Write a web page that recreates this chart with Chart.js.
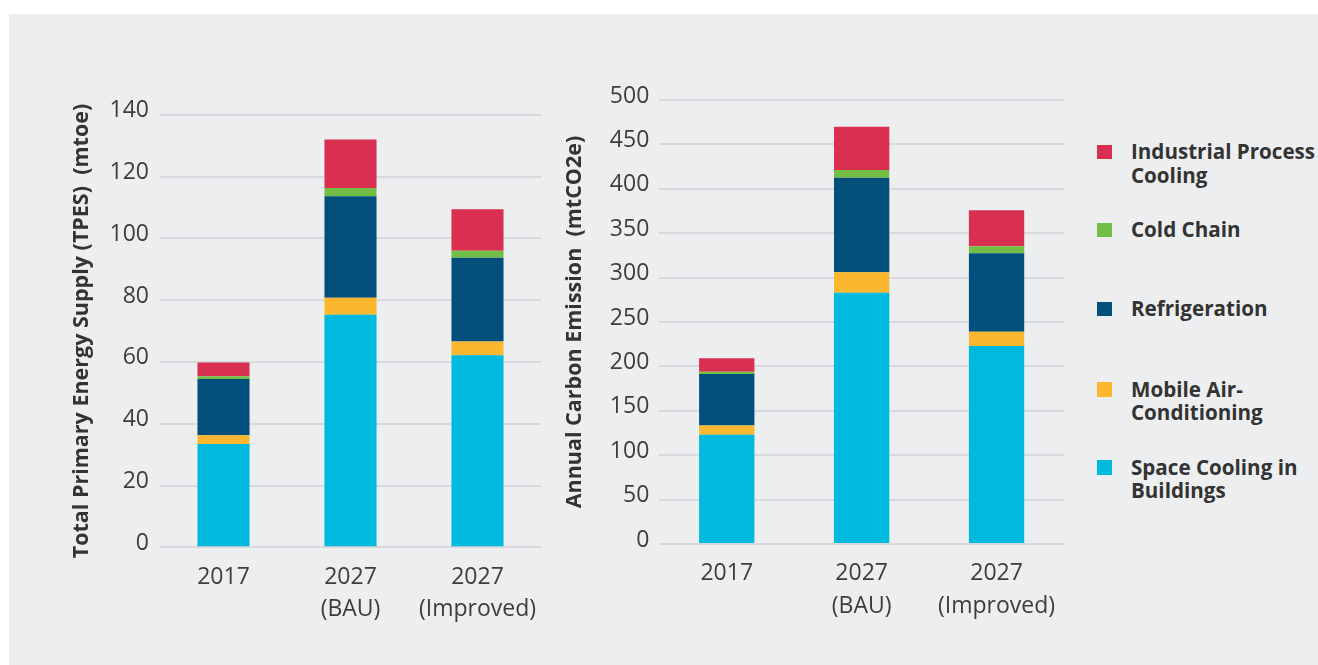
<!DOCTYPE html>
<html>
<head>
<meta charset="utf-8">
<title>Cooling demand - TPES and emissions</title>
<script src="https://cdn.jsdelivr.net/npm/chart.js@4.4.1/dist/chart.umd.min.js"></script>
<style>
    body { margin: 0; width: 1318px; height: 665px; overflow: hidden; background: #fff; font-family: 'Open Sans', sans-serif; }
    #panel { position: absolute; left: 9px; top: 14px; width: 1309px; height: 651px; background: #edeef0; }
    .box { position: absolute; }
    #tpes_box { left: 60px; top: 90px; width: 500px; height: 550px; }
    #co2_box { left: 560px; top: 76px; width: 520px; height: 564px; }
    .legend-item { position: absolute; left: 1097px; width: 221px; }
    .legend-item .sw { position: absolute; left: 0; width: 14.5px; height: 14.5px; }
    .legend-item .txt { position: absolute; left: 34px; font-size: 20.6px; font-weight: 700; line-height: 23.5px; color: #333; white-space: nowrap; }
</style>
</head>
<body>
<div id="panel"></div>
<div class="box" id="tpes_box"><canvas id="tpes_chart"></canvas></div>
<div class="box" id="co2_box"><canvas id="co2_chart"></canvas></div>
<div id="legend"></div>

<script>
// categories (x axis), two lines each
var categories = [["2017"], ["2027", "(BAU)"], ["2027", "(Improved)"]];

// series, bottom of the stack first
var seriesNames = ["Space Cooling in Buildings", "Mobile Air-Conditioning", "Refrigeration", "Cold Chain", "Industrial Process Cooling"];
var seriesColors = ["#00b9df", "#fbb72f", "#034f7b", "#73bf45", "#d92f50"];

// Total Primary Energy Supply (mtoe)
var tpesSpaceCooling = [33.4, 75.3, 62.2];
var tpesMobileAC     = [2.9, 5.5, 4.4];
var tpesRefrigeration = [18.2, 32.8, 27.1];
var tpesColdChain    = [0.9, 2.7, 2.3];
var tpesIndustrial   = [4.4, 15.7, 13.4];

// Annual carbon emission (mtCO2e)
var co2SpaceCooling  = [123, 283, 223];
var co2MobileAC      = [10.5, 23, 16];
var co2Refrigeration = [58, 106.5, 88.5];
var co2ColdChain     = [2.6, 8.7, 7.9];
var co2Industrial    = [15, 48.7, 40.5];

// y axis ticks
var tpesMax = 140, tpesStep = 20;
var co2Max = 500, co2Step = 50;

// legend order as printed (top first)
var legendOrder = [4, 3, 2, 1, 0];
var legendLabels = [["Space Cooling in", "Buildings"], ["Mobile Air-", "Conditioning"], ["Refrigeration"], ["Cold Chain"], ["Industrial Process", "Cooling"]];
var legendTops = [467.5, 389.7, 309.2, 230, 152];

Chart.defaults.font.family = "'Open Sans', sans-serif";

function getChartJs(seriesData, yMax, yStep, yTitle, lay) {
    var datasets = [];
    for (var i = 0; i < seriesNames.length; i++) {
        datasets.push({
            label: seriesNames[i],
            data: seriesData[i],
            backgroundColor: seriesColors[i],
            borderWidth: 0,
            barPercentage: 0.41,
            categoryPercentage: 1
        });
    }
    return {
        type: 'bar',
        data: {
            labels: categories,
            datasets: datasets
        },
        options: {
            responsive: true,
            maintainAspectRatio: false,
            animation: false,
            layout: { padding: { top: lay.top, right: lay.right, bottom: 0, left: 0 } },
            plugins: {
                legend: { display: false },
                tooltip: { enabled: false }
            },
            scales: {
                x: {
                    stacked: true,
                    grid: { display: false, drawTicks: false },
                    border: { display: false },
                    ticks: {
                        color: '#3d3d3d',
                        font: { size: 23, lineHeight: 1.41 },
                        padding: 13.5,
                        maxRotation: 0,
                        autoSkip: false
                    },
                    afterFit: function (scale) { scale.height = lay.xHeight; }
                },
                y: {
                    stacked: true,
                    min: 0,
                    max: yMax,
                    grid: { color: '#d8d9dc', lineWidth: 2, drawTicks: false },
                    border: { display: false },
                    ticks: {
                        stepSize: yStep,
                        color: '#3d3d3d',
                        font: { size: 23 },
                        padding: lay.tickPad,
                        labelOffset: -4
                    },
                    title: {
                        display: true,
                        text: yTitle,
                        color: '#333',
                        font: { size: 21.5, weight: 'bold', lineHeight: 1.2 },
                        padding: { top: lay.titlePad, bottom: 0 }
                    },
                    afterFit: function (scale) { scale.width = lay.yWidth; }
                }
            }
        }
    };
}

new Chart(document.getElementById("tpes_chart").getContext("2d"), getChartJs(
    [tpesSpaceCooling, tpesMobileAC, tpesRefrigeration, tpesColdChain, tpesIndustrial],
    tpesMax, tpesStep, "Total Primary Energy Supply (TPES)  (mtoe)",
    { top: 23.5, right: 19, xHeight: 92.7, yWidth: 100, tickPad: 11, titlePad: 9.3 }));

new Chart(document.getElementById("co2_chart").getContext("2d"), getChartJs(
    [co2SpaceCooling, co2MobileAC, co2Refrigeration, co2ColdChain, co2Industrial],
    co2Max, co2Step, "Annual Carbon Emission  (mtCO2e)",
    { top: 24, right: 16, xHeight: 96, yWidth: 99.3, tickPad: 10, titlePad: 1.8 }));

// legend on the right
var legend = document.getElementById("legend");
for (var k = 0; k < legendOrder.length; k++) {
    var idx = legendOrder[k];
    var item = document.createElement("div");
    item.className = "legend-item";
    item.style.top = (legendTops[idx] - 12) + "px";
    var sw = document.createElement("div");
    sw.className = "sw";
    sw.style.top = "4.5px";
    sw.style.background = seriesColors[idx];
    var txt = document.createElement("div");
    txt.className = "txt";
    txt.style.top = "0px";
    txt.innerHTML = legendLabels[idx].join("<br>");
    item.appendChild(sw);
    item.appendChild(txt);
    legend.appendChild(item);
}
</script>
</body>
</html>
